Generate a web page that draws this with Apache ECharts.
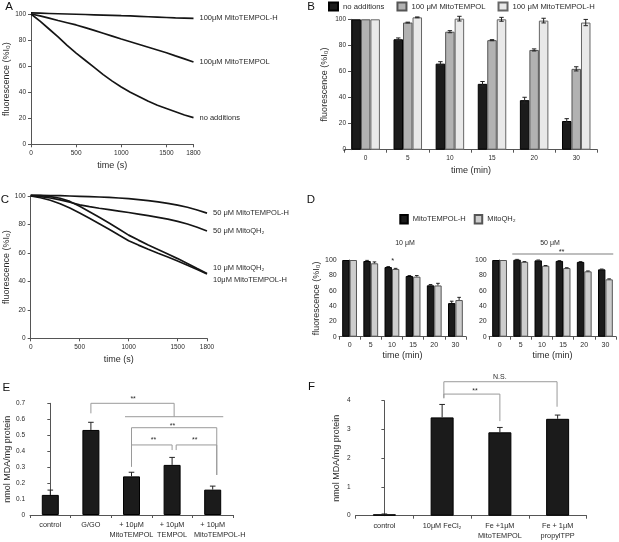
<!DOCTYPE html>
<html><head><meta charset="utf-8">
<script src="https://cdn.jsdelivr.net/npm/echarts@6/dist/echarts.min.js"></script>
<style>html,body{margin:0;padding:0;background:#fff}#c{width:619px;height:542px}</style>
</head><body><div id="c"></div>
<script>
// ---------- Data ----------
const timeS = [0,100,200,300,400,500,600,700,800,900,1000,1100,1200,1300,1400,1500,1600,1700,1800];
// Panel A
const aNoAdditions = [100,94.5,88.5,82.5,76,70,64.5,59,53.5,48.5,44,40,36.5,33,30,27.5,25,22.5,20.5];
const aMitoTEMPOL = [100,98.6,96.8,95,93.3,91.6,89.5,87.4,85.2,83,80.8,78.7,76.6,74.5,72.4,70.3,67.9,65.6,63.2];
const aMitoTEMPOLH = [100.8,100.6,100.4,100.2,100,99.8,99.6,99.4,99.2,99,98.7,98.5,98.2,97.9,97.6,97.3,97,96.8,96.6];
// Panel C
const cMitoTEMPOLH50 = [100.5,100.4,100.3,100.2,100,99.8,99.6,99.3,99,98.6,98.1,97.5,96.8,95.9,94.8,93.6,92.1,90.2,88];
const cMitoQH50 = [100.3,99.6,98.6,97.3,95.6,93.8,92.5,91.4,90.4,89.4,88.4,87.3,86.2,85,83.7,82.2,80.3,78,75.4];
const cMitoQH10 = [100.5,100.2,99.6,98.4,96.2,92.8,89,85,81,76.8,72.5,69,65.6,62.4,59.2,56,52.6,49,45.5];
const cMitoTEMPOLH10 = [100,98.8,97,94.6,91.5,88,84.3,80.5,76.7,72.6,68.6,65.5,62.6,59.8,57.1,54.3,51.3,48.3,45.2];
// Panel B
const bTimes = ['0','5','10','15','20','30'];
const bNoAdditions = [100,84.7,66,50.5,38,22];
const bNoAdditionsErr = [0,1,1.5,1.8,2.2,1.8];
const bMitoTEMPOL = [100,97.5,90.5,84,76.5,62];
const bMitoTEMPOLErr = [0,0.3,0.8,0.4,0.8,1.6];
const bMitoTEMPOLH = [100,101.5,100.5,100,99,97.5];
const bMitoTEMPOLHErr = [0,0.3,1.8,1.5,1.8,2.4];
// Panel D
const dTimes = ['0','5','10','15','20','30'];
const d10MitoTEMPOLH = [100,98.7,90.8,79.1,67,43.8];
const d10MitoTEMPOLHErr = [0,0.8,0.6,0.6,1,2.5];
const d10MitoQH = [100,95.7,88.3,78.3,66.8,47.8];
const d10MitoQHErr = [0,1.8,0.8,1.4,2.8,3.5];
const d50MitoTEMPOLH = [100,100.4,99.5,98.8,97.5,87.8];
const d50MitoTEMPOLHErr = [0,0.4,0.5,0.4,0.4,0.4];
const d50MitoQH = [100,97.6,92.5,89.5,85.2,74.8];
const d50MitoQHErr = [0,0.3,0.3,0.4,0.5,0.6];
// Panel E
const eGroups = ['control','G/GO','+ 10μM\nMitoTEMPOL','+ 10μM\nTEMPOL','+ 10μM\nMitoTEMPOL-H'];
const eMDA = [0.126,0.533,0.242,0.314,0.159];
const eMDAErr = [0.03,0.048,0.026,0.047,0.022];
// Panel F
const fGroups = ['control','10μM FeCl₂','Fe +1μM\nMitoTEMPOL','Fe + 1μM\npropylTPP'];
const fMDA = [0.05,3.42,2.9,3.37];
const fMDAErr = [0.01,0.45,0.17,0.13];
// Significance annotations [x1, x2, yTop, yLeftEnd, yRightEnd] and [x, y, text]
const eBrackets = [[1,3.05,0.7,0.637,0.616],[1.84,4.26,0.616,0.616,0.616],[2,4.1,0.547,0.303,0.251],[2,3,0.439,0.303,0.407],[3.1,4.1,0.439,0.407,0.251]];
const eMarks = [[2.04,0.726,'**'],[3.01,0.559,'**'],[2.54,0.467,'**'],[3.56,0.467,'**']];
const fBrackets = [[1.03,2.99,4.66,4.10,3.79],[1.03,2.0,4.23,4.08,3.29]];
const fMarks = [[2.0,4.83,'N.S.'],[1.57,4.32,'**']];
const dlMarks = [[2.04,99,'*']];
const drBrackets = [[0.6,5.37,107.8,107.8,107.8]];
const drMarks = [[2.93,111,'**']];

// ---------- Helpers ----------
const FONT = '"Liberation Sans", Arial, Helvetica, sans-serif';
const AX = '#555', TX = '#2a2a2a';
function valAxisY(grid, max, interval, name, gap, extra) {
  return Object.assign({
    type:'value', gridIndex:grid, min:0, max:max, interval:interval,
    name:name, nameLocation:'middle', nameGap:gap, nameRotate:90,
    nameTextStyle:{fontSize:9, color:TX, fontFamily:FONT},
    axisLine:{show:true, lineStyle:{color:AX, width:1}},
    axisTick:{show:true, length:3, lineStyle:{color:AX}},
    axisLabel:{fontSize:6.5, color:TX, fontFamily:FONT, margin:5},
    splitLine:{show:false}
  }, extra || {});
}
function catAxisX(grid, cats, name, extra) {
  return Object.assign({
    type:'category', gridIndex:grid, data:cats,
    name:name, nameLocation:'middle', nameGap:17,
    nameTextStyle:{fontSize:9, color:TX, fontFamily:FONT},
    axisLine:{lineStyle:{color:AX, width:1}},
    axisTick:{show:true, length:3, lineStyle:{color:AX}},
    axisLabel:{fontSize:6.5, color:TX, fontFamily:FONT, margin:5, interval:0},
    splitLine:{show:false}
  }, extra || {});
}
function timeAxisX(grid) {
  const ticks = [0,500,1000,1500,1800];
  return {
    type:'value', gridIndex:grid, min:0, max:1800, interval:500,
    name:'time (s)', nameLocation:'middle', nameGap:17,
    nameTextStyle:{fontSize:9, color:TX, fontFamily:FONT},
    axisLine:{lineStyle:{color:AX, width:1}},
    axisTick:{show:true, length:3, lineStyle:{color:AX}, customValues:ticks},
    axisLabel:{fontSize:6.5, color:TX, fontFamily:FONT, margin:5, customValues:ticks, formatter:v=>String(v)},
    splitLine:{show:false}
  };
}
function hiddenX(grid, min, max) { return {type:'value', gridIndex:grid, min:min, max:max, show:false}; }
function curve(name, xi, yi, arr, offset) {
  return {
    type:'line', name:name, xAxisIndex:xi, yAxisIndex:yi, showSymbol:false, clip:false,
    data: timeS.map((t,i)=>[t, arr[i]]),
    lineStyle:{color:'#151515', width:1.7}, itemStyle:{color:'#151515'},
    endLabel:{show:true, formatter:name, distance:6, offset:offset||[0,0], fontSize:7.5, color:TX, fontFamily:FONT},
    silent:true, z:3
  };
}
function bars(name, xi, yi, arr, width, fill, border) {
  return {type:'bar', name:name, xAxisIndex:xi, yAxisIndex:yi, data:arr, barWidth:width, barGap:'0%', clip:false,
    itemStyle:{color:fill, borderColor:border, borderWidth:1}, silent:true};
}
function errors(xi, yi, vals, errs, offset, cap, both) {
  return {
    type:'custom', xAxisIndex:xi, yAxisIndex:yi, silent:true, z:5,
    data: vals.map((v,i)=>[i, v]),
    renderItem: function(params, api) {
      const i = params.dataIndex, v = vals[i], e = errs[i];
      if (!e) return {type:'group', children:[]};
      const top = api.coord([i, v+e]);
      const bot = api.coord([i, both ? v-e : v]);
      const x = top[0] + offset;
      const st = {stroke:'#222', lineWidth:1};
      const ch = [
        {type:'line', shape:{x1:x, y1:top[1], x2:x, y2:bot[1]}, style:st},
        {type:'line', shape:{x1:x-cap, y1:top[1], x2:x+cap, y2:top[1]}, style:st}
      ];
      if (both) ch.push({type:'line', shape:{x1:x-cap, y1:bot[1], x2:x+cap, y2:bot[1]}, style:st});
      return {type:'group', children:ch};
    }
  };
}
function brackets(xi, yi, list, color, width) {
  return {
    type:'custom', xAxisIndex:xi, yAxisIndex:yi, silent:true, z:4,
    data: list.map(b=>[b[0], b[2]]),
    renderItem: function(params, api) {
      const b = list[params.dataIndex];
      const pts = [api.coord([b[0], b[3]]), api.coord([b[0], b[2]]), api.coord([b[1], b[2]]), api.coord([b[1], b[4]])];
      return {type:'polyline', shape:{points:pts}, style:{stroke:color, lineWidth:width, fill:null}};
    }
  };
}
function marks(xi, yi, list, size) {
  return {
    type:'custom', xAxisIndex:xi, yAxisIndex:yi, silent:true, z:4,
    data: list.map(m=>[m[0], m[1]]),
    renderItem: function(params, api) {
      const m = list[params.dataIndex];
      const p = api.coord([m[0], m[1]]);
      return {type:'text', x:p[0], y:p[1], style:{text:m[2], fill:TX, fontSize:size, fontFamily:FONT, align:'center', verticalAlign:'middle'}};
    }
  };
}
function letter(t, x, y) {
  return {type:'text', x:x, y:y, style:{text:t, fill:'#111', fontSize:11.5, fontFamily:FONT, align:'center', verticalAlign:'middle'}};
}
// E category labels: last label's second line nudged right as in the original figure
function eLabel(v) {
  const parts = v.split('\n');
  if (parts.length < 2) return '{a|' + v + '}';
  const style = parts[1] === 'MitoTEMPOL-H' ? 'r' : 'a';
  return '{a|' + parts[0] + '}\n{' + style + '|' + parts[1] + '}';
}
const eRich = {
  a:{fontSize:7.3, color:TX, fontFamily:FONT, lineHeight:10},
  r:{fontSize:7.3, color:TX, fontFamily:FONT, lineHeight:10, padding:[0,0,0,14]}
};

const BLACK = '#1b1b1b', GRAY = '#b2b2b2', LIGHT = '#e9e9e9', DGRAY = '#cdcdcd';

const option = {
  animation:false,
  backgroundColor:'#fff',
  textStyle:{fontFamily:FONT},
  grid:[
    {left:31, top:14, width:162.5, height:130.3},      // 0 A
    {left:344.6, top:19.3, width:252.7, height:130.4}, // 1 B
    {left:30.7, top:196, width:176.3, height:142.3},   // 2 C
    {left:339, top:260, width:127, height:76.7},       // 3 D left
    {left:489, top:260, width:127, height:76.7},       // 4 D right
    {left:30, top:403.3, width:203, height:111.7},     // 5 E
    {left:355.5, top:400.7, width:231, height:115}     // 6 F
  ],
  xAxis:[
    timeAxisX(0),
    catAxisX(1, bTimes, 'time (min)', {nameGap:16}),
    timeAxisX(2),
    catAxisX(3, dTimes, 'time (min)', {nameGap:14, axisLabel:{fontSize:7, color:TX, fontFamily:FONT, margin:5, interval:0}}),
    catAxisX(4, dTimes, 'time (min)', {nameGap:14, axisLabel:{fontSize:7, color:TX, fontFamily:FONT, margin:5, interval:0}}),
    catAxisX(5, eGroups, '', {axisLabel:{color:TX, fontFamily:FONT, margin:5, interval:0, formatter:eLabel, rich:eRich}}),
    catAxisX(6, fGroups, '', {axisLabel:{fontSize:7.3, color:TX, fontFamily:FONT, margin:5, interval:0, lineHeight:10}}),
    hiddenX(3, -0.5, 5.5),  // 7
    hiddenX(4, -0.5, 5.5),  // 8
    hiddenX(5, -0.5, 4.5),  // 9
    hiddenX(6, -0.5, 3.5)   // 10
  ],
  yAxis:[
    valAxisY(0, 100, 20, 'fluorescence (%I₀)', 19),
    valAxisY(1, 100, 20, 'fluorescence (%I₀)', 22, {offset:-6.4}),
    valAxisY(2, 100, 20, 'fluorescence (%I₀)', 19),
    valAxisY(3, 100, 20, 'fluorescence (%I₀)', 21, {offset:-2.7, axisLabel:{fontSize:7, color:TX, fontFamily:FONT, margin:5}}),
    valAxisY(4, 100, 20, '', 20, {offset:-2.7, axisLabel:{fontSize:7, color:TX, fontFamily:FONT, margin:5}}),
    valAxisY(5, 0.7, 0.1, 'nmol MDA/mg protein', 18),
    valAxisY(6, 4, 1, 'nmol MDA/mg protein', 14)
  ],
  legend:[
    {data:['no additions','100 μM MitoTEMPOL','100 μM MitoTEMPOL-H'], left:328, top:1.5, padding:0,
     icon:'rect', itemWidth:9, itemHeight:8, itemGap:12, selectedMode:false,
     textStyle:{fontSize:7.7, color:TX, fontFamily:FONT, padding:[0,0,0,0]}},
    {data:['MitoTEMPOL-H','MitoQH₂'], left:399.3, top:214, padding:0,
     icon:'rect', itemWidth:7.5, itemHeight:8.5, itemGap:8, selectedMode:false,
     textStyle:{fontSize:7.5, color:TX, fontFamily:FONT}}
  ],
  graphic:[
    letter('A', 9, 7.3), letter('B', 311, 6.6), letter('C', 5, 199.7),
    letter('D', 311, 199.6), letter('E', 6.3, 388), letter('F', 311.5, 386.6),
    {type:'text', x:405, y:243.3, style:{text:'10 μM', fill:TX, fontSize:7, fontFamily:FONT, align:'center', verticalAlign:'middle'}},
    {type:'text', x:550, y:243.3, style:{text:'50 μM', fill:TX, fontSize:7, fontFamily:FONT, align:'center', verticalAlign:'middle'}}
  ],
  series:[
    // A
    curve('100μM MitoTEMPOL-H', 0, 0, aMitoTEMPOLH),
    curve('100μM MitoTEMPOL', 0, 0, aMitoTEMPOL),
    curve('no additions ', 0, 0, aNoAdditions),
    // C
    curve('50 μM MitoTEMPOL-H', 2, 2, cMitoTEMPOLH50),
    curve('50 μM MitoQH₂', 2, 2, cMitoQH50),
    curve('10 μM MitoQH₂', 2, 2, cMitoQH10, [0,-6]),
    curve('10μM MitoTEMPOL-H', 2, 2, cMitoTEMPOLH10, [0,6]),
    // B
    bars('no additions', 1, 1, bNoAdditions, 9.5, BLACK, '#000'),
    bars('100 μM MitoTEMPOL', 1, 1, bMitoTEMPOL, 9.5, GRAY, '#555'),
    bars('100 μM MitoTEMPOL-H', 1, 1, bMitoTEMPOLH, 9.5, LIGHT, '#666'),
    errors(1, 1, bNoAdditions, bNoAdditionsErr, -9.5, 2.2, true),
    errors(1, 1, bMitoTEMPOL, bMitoTEMPOLErr, 0, 2.2, true),
    errors(1, 1, bMitoTEMPOLH, bMitoTEMPOLHErr, 9.5, 2.2, true),
    // D left
    bars('MitoTEMPOL-H', 3, 3, d10MitoTEMPOLH, 7.4, BLACK, '#000'),
    bars('MitoQH₂', 3, 3, d10MitoQH, 7.4, DGRAY, '#555'),
    errors(3, 3, d10MitoTEMPOLH, d10MitoTEMPOLHErr, -3.7, 1.8, false),
    errors(3, 3, d10MitoQH, d10MitoQHErr, 3.7, 1.8, false),
    marks(7, 3, dlMarks, 7.5),
    // D right
    bars('MitoTEMPOL-H', 4, 4, d50MitoTEMPOLH, 7.4, BLACK, '#000'),
    bars('MitoQH₂', 4, 4, d50MitoQH, 7.4, DGRAY, '#555'),
    errors(4, 4, d50MitoTEMPOLH, d50MitoTEMPOLHErr, -3.7, 1.8, false),
    errors(4, 4, d50MitoQH, d50MitoQHErr, 3.7, 1.8, false),
    brackets(8, 4, drBrackets, '#a8a8a8', 1.6),
    marks(8, 4, drMarks, 7.5),
    // E
    bars('MDA E', 5, 5, eMDA, 17, BLACK, '#000'),
    errors(5, 5, eMDA, eMDAErr, 0, 2.8, false),
    brackets(9, 5, eBrackets, '#9a9a9a', 1),
    marks(9, 5, eMarks, 7),
    // F
    bars('MDA F', 6, 6, fMDA, 23, BLACK, '#000'),
    errors(6, 6, fMDA, fMDAErr, 0, 2.8, false),
    brackets(10, 6, fBrackets, '#9a9a9a', 1),
    marks(10, 6, fMarks, 7)
  ]
};
const chart = echarts.init(document.getElementById('c'), null, {renderer:'canvas'});
chart.setOption(option);
</script>
</body></html>
